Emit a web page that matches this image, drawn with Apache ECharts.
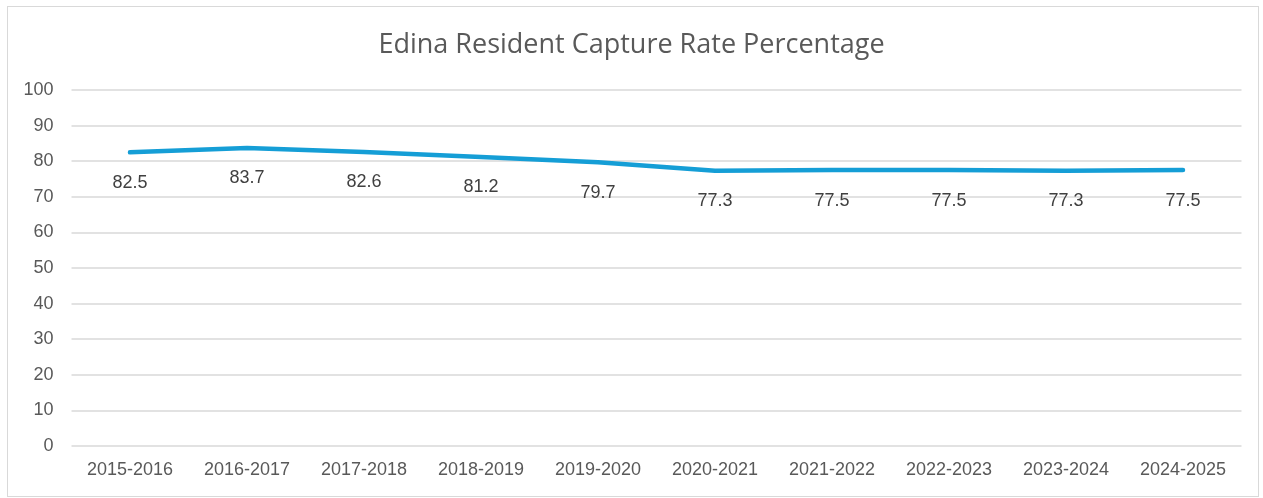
<!DOCTYPE html>
<html>
<head>
<meta charset="utf-8">
<script src="https://cdn.jsdelivr.net/npm/echarts@6/dist/echarts.min.js"></script>
<style>
  html, body { margin: 0; padding: 0; background: #fff; }
  .frame {
    position: absolute;
    left: 7px;
    top: 6px;
    width: 1250px;
    height: 489px;
    border: 1px solid #d9d9d9;
  }
  #chart { position: absolute; left: 0; top: 0; width: 1263px; height: 498px; }
</style>
</head>
<body>
<div class="frame"></div>
<div id="chart"></div>
<script>
const years = [
  "2015-2016", "2016-2017", "2017-2018", "2018-2019", "2019-2020",
  "2020-2021", "2021-2022", "2022-2023", "2023-2024", "2024-2025",
];
const captureRate = [82.5, 83.7, 82.6, 81.2, 79.7, 77.3, 77.5, 77.5, 77.3, 77.5];

const myChart = echarts.init(document.getElementById("chart"));
myChart.setOption({
  animation: false,
  title: {
    text: "Edina Resident Capture Rate Percentage",
    left: "center",
    top: 27,
    textStyle: {
      color: "#595959",
      fontSize: 27,
      fontWeight: "normal",
      fontFamily: "Open Sans",
    },
  },
  grid: {
    left: 71.5,
    right: 21.5,
    top: 90,
    bottom: 52,
  },
  xAxis: {
    type: "category",
    data: years,
    boundaryGap: true,
    axisLine: { show: false },
    axisTick: { show: false },
    axisLabel: {
      color: "#595959",
      fontSize: 18,
      fontFamily: "Liberation Sans",
      margin: 15,
    },
  },
  yAxis: {
    type: "value",
    min: 0,
    max: 100,
    interval: 10,
    axisLine: { show: false },
    axisTick: { show: false },
    axisLabel: {
      color: "#595959",
      fontSize: 18,
      fontFamily: "Liberation Sans",
      margin: 18,
    },
    splitLine: { lineStyle: { color: "#d9d9d9", width: 1.5 } },
  },
  series: [
    {
      type: "line",
      data: captureRate,
      symbol: "circle",
      symbolSize: 1,
      itemStyle: { color: "#159ed6" },
      lineStyle: { color: "#159ed6", width: 4.5, cap: "round", join: "round" },
      label: {
        show: true,
        position: "bottom",
        distance: 21,
        color: "#404040",
        fontSize: 18,
        fontFamily: "Liberation Sans",
        formatter: (p) => p.value.toFixed(1),
      },
    },
  ],
});
</script>
</body>
</html>
